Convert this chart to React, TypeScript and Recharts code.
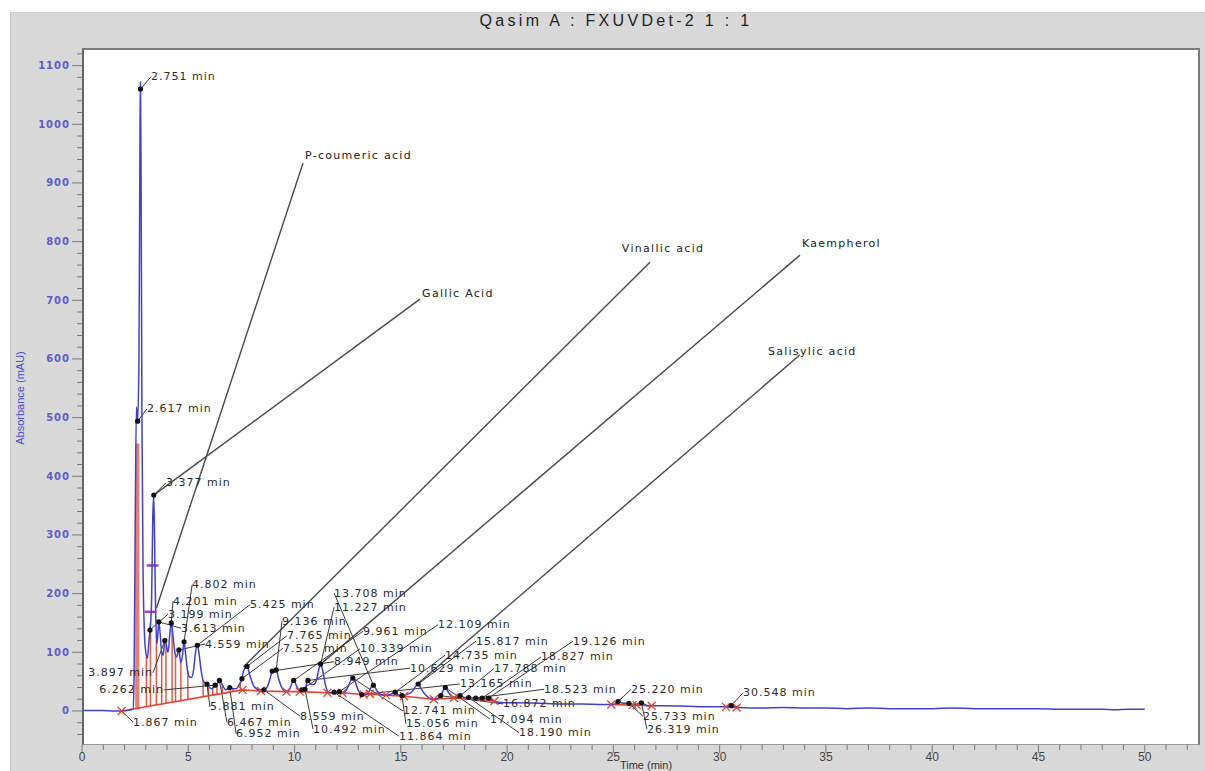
import {
  ComposedChart,
  Line,
  Scatter,
  XAxis,
  YAxis,
  ReferenceLine,
  ReferenceArea,
} from "recharts";

// detector trace, [time (min), absorbance (mAU)]
const trace: [number, number][] = [
  [0, 1], [0.5, 1], [1, 1], [1.5, 0], [1.867, 0], [2.2, 1], [2.4, 3], [2.45, 60],
  [2.5, 300], [2.56, 518], [2.617, 494], [2.68, 600], [2.73, 1000], [2.751, 1072],
  [2.78, 900], [2.82, 500], [2.87, 250], [2.93, 140], [3.0, 100], [3.08, 90],
  [3.15, 120], [3.199, 138], [3.27, 180], [3.33, 330], [3.377, 368], [3.42, 280],
  [3.47, 160], [3.53, 115], [3.613, 152], [3.68, 130], [3.75, 100], [3.82, 95],
  [3.897, 120], [3.97, 112], [4.05, 100], [4.13, 130], [4.201, 152], [4.28, 128],
  [4.37, 100], [4.46, 92], [4.559, 104], [4.65, 82], [4.73, 95], [4.802, 118],
  [4.88, 95], [4.96, 70], [5.05, 58], [5.15, 57], [5.25, 70], [5.34, 100],
  [5.425, 112], [5.5, 100], [5.6, 70], [5.72, 50], [5.881, 46], [6.0, 40],
  [6.1, 38], [6.262, 44], [6.35, 46], [6.467, 52], [6.6, 45], [6.75, 36],
  [6.952, 40], [7.1, 38], [7.25, 38], [7.4, 45], [7.525, 55], [7.6, 68],
  [7.765, 76], [7.9, 60], [8.05, 45], [8.25, 37], [8.4, 36], [8.559, 36],
  [8.7, 40], [8.85, 55], [8.949, 68], [9.05, 66], [9.136, 70], [9.25, 55],
  [9.4, 40], [9.6, 33], [9.75, 36], [9.961, 52], [10.1, 42], [10.22, 35],
  [10.339, 36], [10.492, 37], [10.629, 52], [10.75, 46], [10.9, 45], [11.05, 55],
  [11.15, 72], [11.227, 80], [11.33, 68], [11.45, 45], [11.6, 32], [11.75, 31],
  [11.864, 32], [12.0, 31], [12.109, 33], [12.3, 31], [12.5, 40], [12.65, 52],
  [12.741, 56], [12.85, 50], [13.0, 35], [13.165, 28], [13.3, 27], [13.45, 30],
  [13.6, 40], [13.708, 44], [13.85, 36], [14.05, 28], [14.3, 27], [14.5, 28],
  [14.735, 32], [14.9, 27], [15.056, 26], [15.25, 28], [15.5, 32], [15.7, 42],
  [15.817, 46], [15.95, 38], [16.15, 28], [16.4, 21], [16.6, 20], [16.872, 26],
  [16.98, 34], [17.094, 40], [17.2, 34], [17.4, 25], [17.6, 23], [17.788, 26],
  [18.0, 23], [18.19, 23], [18.35, 22], [18.523, 22], [18.7, 21], [18.827, 22],
  [19.0, 21], [19.126, 22], [19.4, 16], [19.8, 14], [20.5, 14], [21.5, 13],
  [22.5, 12], [23.5, 12], [24.5, 11], [25.0, 11], [25.22, 16], [25.45, 13],
  [25.733, 13], [26.0, 11], [26.319, 14], [26.6, 9], [27.5, 9], [28.5, 8],
  [29.5, 7], [30.2, 7], [30.548, 9], [30.9, 6], [32, 5], [33, 6], [34, 5],
  [35, 5], [36, 4], [37, 5], [38, 4], [39, 4], [40, 4], [41, 5], [42, 4],
  [43, 4], [44, 4], [45, 4], [46, 3], [47, 3], [48, 3], [48.6, 2], [49.2, 3],
  [50, 3],
];

// integrated peaks
const peakTimes = [
  2.617, 2.751, 3.199, 3.377, 3.613, 3.897, 4.201, 4.559, 4.802, 5.425, 5.881,
  6.262, 6.467, 6.952, 7.525, 7.765, 8.559, 8.949, 9.136, 9.961, 10.339, 10.492,
  10.629, 11.227, 11.864, 12.109, 12.741, 13.165, 13.708, 14.735, 15.056, 15.817,
  16.872, 17.094, 17.788, 18.19, 18.523, 18.827, 19.126, 25.22, 25.733, 26.319,
  30.548,
];
const peakValues = [
  494, 1060, 138, 368, 152, 120, 150, 104, 118, 112, 46, 44, 52, 40, 55, 76, 36,
  68, 70, 52, 36, 37, 52, 80, 32, 33, 56, 28, 44, 32, 26, 46, 26, 40, 26, 23, 22,
  22, 22, 16, 13, 14, 9,
];

// integration baseline (null = break)
const baseline: [number, number | null][] = [
  [1.867, 0], [7.55, 36], [8.42, 34], [9.62, 33], [10.25, 33], [11.55, 31],
  [12.25, 31], [13.25, 28], [13.55, 29], [14.3, 27], [15.15, 25], [16.55, 20],
  [17.5, 22], [19.4, 17], [19.5, null], [24.9, 11], [25.9, 10], [26.1, 10],
  [26.8, 9], [27, null], [30.3, 7], [30.8, 6],
];

// peak drop lines in the crowded early part
const dropTimes = [3.03, 3.22, 3.5, 3.75, 3.95, 4.24, 4.4, 4.65, 4.98, 5.7, 5.95, 6.15, 6.35, 6.6, 7.1, 7.45];
const dropFloor = [7, 9, 10, 12, 13, 15, 16, 18, 20, 24, 26, 27, 28, 30, 33, 35];
const dropTop = [92, 150, 130, 100, 112, 145, 98, 82, 68, 52, 40, 40, 46, 45, 38, 48];

// retention time labels and where they sit
const labelPeaks = [
  2.751, 2.617, 3.377, 4.802, 4.201, 3.199, 3.613, 4.559, 3.897, 6.262, 1.867,
  5.425, 9.136, 7.765, 7.525, 5.881, 6.467, 6.952, 13.708, 11.227, 9.961, 8.949,
  10.339, 12.109, 10.629, 8.559, 10.492, 11.864, 15.817, 14.735, 13.165, 12.741,
  15.056, 19.126, 18.827, 17.788, 18.523, 16.872, 17.094, 18.19, 25.22, 25.733,
  26.319, 30.548,
];
const labelSpots: [number, number][] = [
  [3.25, 1081], [3.06, 515], [3.95, 389], [5.18, 215], [4.28, 187], [4.05, 165],
  [4.66, 141], [5.79, 114], [3.34, 65], [3.86, 36], [2.4, -19], [7.9, 181],
  [9.41, 153], [9.64, 128], [9.46, 107], [6.02, 7], [6.82, -19], [7.25, -39],
  [11.86, 201], [11.86, 177], [13.22, 136], [11.86, 84], [13.08, 106],
  [16.75, 147], [15.43, 73], [10.26, -9], [10.87, -31], [14.91, -43],
  [18.54, 119], [17.08, 95], [17.78, 46], [15.1, 0], [15.24, -22], [23.1, 119],
  [21.6, 92], [19.38, 72], [21.74, 37], [19.81, 12], [19.2, -14], [20.56, -37],
  [25.83, 37], [26.39, -9], [26.58, -31], [31.1, 31],
];
const rightAligned = [3.897, 6.262];

// identified compounds
const compoundNames = ["P-coumeric acid", "Gallic Acid", "Vinallic acid", "Kaempherol", "Salisylic acid"];
const compoundFrom: [number, number][] = [[3.5, 175], [3.377, 368], [7.6, 75], [11.3, 82], [15.85, 48]];
const compoundTo: [number, number][] = [[10.4, 934], [15.9, 702], [26.72, 765], [33.78, 777], [33.78, 607]];
const compoundText: [number, number][] = [[10.49, 946], [16.0, 712], [25.4, 789], [33.87, 796], [32.27, 612]];

const yTicks = Array.from({ length: 59 }, (_, i) => -40 + i * 20);
const xTicks = Array.from({ length: 53 }, (_, i) => i);

const traceData = trace.map(([t, v]) => ({ t, v }));
const baseData = baseline.map(([t, v]) => ({ t, v }));
const baseMarks = baseline.filter(([, v]) => v !== null).map(([t, v]) => ({ t, v }));
const peakData = peakTimes.map((t, i) => ({ t, v: peakValues[i] }));
const labelData = labelPeaks.map((p, i) => ({
  t: labelSpots[i][0],
  v: labelSpots[i][1],
  text: `${p.toFixed(3)} min`,
  align: rightAligned.includes(p) ? "end" : "start",
}));
const compoundData = compoundNames.map((name, i) => ({ t: compoundText[i][0], v: compoundText[i][1], text: name }));

const leaderTarget = (p: number): [number, number] => {
  const i = peakTimes.indexOf(p);
  return i >= 0 ? [p, peakValues[i]] : [p, 0];
};

const YTick = (props: any) => {
  const { x, y, payload } = props;
  const major = payload.value % 100 === 0;
  return (
    <g>
      <line x1={x - (major ? 10 : 5)} x2={x} y1={y} y2={y} stroke="#7a7a7a" />
      {major && (
        <text x={x - 12} y={y} textAnchor="end" dominantBaseline="central" fontFamily="DejaVu Sans" fontWeight="bold" fontSize={10} letterSpacing={1} fill="#5a5ad2">
          {payload.value}
        </text>
      )}
    </g>
  );
};

const XTick = (props: any) => {
  const { x, y, payload } = props;
  const major = payload.value % 5 === 0;
  return (
    <g>
      <line x1={x} x2={x} y1={y} y2={y + (major ? 8 : 5)} stroke="#7a7a7a" />
      {major && (
        <text x={x} y={y + 12} textAnchor="middle" dominantBaseline="central" fontFamily="Liberation Sans" fontSize={12} fill="#444">
          {payload.value}
        </text>
      )}
    </g>
  );
};

const RtLabel = (props: any) => {
  const { cx, cy, payload } = props;
  return (
    <text x={cx} y={cy} textAnchor={payload.align} dominantBaseline="central" fontFamily="DejaVu Sans" fontSize={11} letterSpacing={1} fill="#2b2b2b">
      {payload.text}
    </text>
  );
};

const CompoundLabel = (props: any) => {
  const { cx, cy, payload } = props;
  return (
    <text x={cx} y={cy} dominantBaseline="central" fontFamily="DejaVu Sans" fontSize={11} letterSpacing={1.3} fill="#222">
      {payload.text}
    </text>
  );
};

const Dot = (props: any) => <circle cx={props.cx} cy={props.cy} r={2.6} fill="#111" />;

const Cross = (props: any) => {
  const { cx, cy } = props;
  return (
    <g stroke="#e8412d" strokeWidth={1.3}>
      <line x1={cx - 4} y1={cy - 4} x2={cx + 4} y2={cy + 4} />
      <line x1={cx - 4} y1={cy + 4} x2={cx + 4} y2={cy - 4} />
    </g>
  );
};

export default function App() {
  return (
    <div style={{ position: "absolute", left: 0, top: 0, width: 1205, height: 771, background: "#fff", overflow: "hidden" }}>
      <div style={{ position: "absolute", left: 10, top: 12, width: 1195, height: 759, background: "#d9d9d9", borderLeft: "1px solid #c4c4c4", borderTop: "1px solid #cfcfcf" }} />
      <div style={{ position: "absolute", left: 0, width: 1232, top: 12, textAlign: "center", fontFamily: "Liberation Sans", fontSize: 16, letterSpacing: 3.3, color: "#222" }}>
        Qasim A : FXUVDet-2 1 : 1
      </div>
      <div style={{ position: "absolute", left: 82, top: 48, width: 1118, height: 697, background: "#fff" }} />
      <div style={{ position: "absolute", left: 0, top: 0 }}>
        <ComposedChart width={1205} height={771} margin={{ top: 48, right: 5, left: 10, bottom: 0 }}>
          <XAxis
            type="number"
            dataKey="t"
            domain={[0, 52.6]}
            ticks={xTicks}
            interval={0}
            height={26}
            tickSize={0}
            tickMargin={0}
            axisLine={false}
            tickLine={false}
            tick={XTick}
          />
          <YAxis
            type="number"
            dataKey="v"
            domain={[-58, 1130]}
            ticks={yTicks}
            interval={0}
            width={72}
            tickSize={0}
            tickMargin={0}
            axisLine={false}
            tickLine={false}
            tick={YTick}
          />
          <ReferenceArea x1={2.5} x2={2.7} y1={3} y2={456} fill="#e9705f" fillOpacity={0.9} stroke="none" />
          {dropTimes.map((t, i) => (
            <ReferenceLine key={`d${i}`} segment={[{ x: t, y: dropFloor[i] }, { x: t, y: dropTop[i] }]} stroke="#e25a46" strokeWidth={1.5} />
          ))}
          {compoundNames.map((n, i) => (
            <ReferenceLine key={`c${i}`} segment={[{ x: compoundFrom[i][0], y: compoundFrom[i][1] }, { x: compoundTo[i][0], y: compoundTo[i][1] }]} stroke="#4a4a4a" strokeWidth={1.4} />
          ))}
          {labelPeaks.map((p, i) => {
            const [pt, pv] = leaderTarget(p);
            return (
              <ReferenceLine key={`l${i}`} segment={[{ x: pt, y: pv }, { x: labelSpots[i][0], y: labelSpots[i][1] }]} stroke="#3a3a3a" strokeWidth={1} />
            );
          })}
          <ReferenceLine segment={[{ x: 3.05, y: 248 }, { x: 3.6, y: 248 }]} stroke="#a63cc0" strokeWidth={2.5} />
          <ReferenceLine segment={[{ x: 2.95, y: 169 }, { x: 3.5, y: 169 }]} stroke="#a63cc0" strokeWidth={2.5} />
          <Line data={baseData} dataKey="v" type="linear" stroke="#e8412d" strokeWidth={1.6} dot={false} connectNulls={false} isAnimationActive={false} />
          <Line data={traceData} dataKey="v" type="monotone" stroke="#4040d0" strokeWidth={1.5} dot={false} isAnimationActive={false} />
          <Scatter data={baseMarks} dataKey="v" shape={Cross} isAnimationActive={false} />
          <Scatter data={peakData} dataKey="v" shape={Dot} isAnimationActive={false} />
          <Scatter data={labelData} dataKey="v" shape={RtLabel} isAnimationActive={false} />
          <Scatter data={compoundData} dataKey="v" shape={CompoundLabel} isAnimationActive={false} />
        </ComposedChart>
      </div>
      <div style={{ position: "absolute", left: 82, top: 48, width: 1118, height: 697, boxSizing: "border-box", borderTop: "2px solid #7d7d7d", borderRight: "2px solid #7d7d7d", borderLeft: "2px solid #666", borderBottom: "1px solid #999", pointerEvents: "none" }} />
      <div style={{ position: "absolute", left: 20, top: 398, transform: "translate(-50%, -50%) rotate(-90deg)", whiteSpace: "nowrap", fontFamily: "Liberation Sans", fontSize: 11, color: "#4b4bd6" }}>
        Absorbance (mAU)
      </div>
      <div style={{ position: "absolute", left: 646, top: 765, transform: "translate(-50%, -50%)", whiteSpace: "nowrap", fontFamily: "Liberation Sans", fontSize: 11, lineHeight: "11px", color: "#333" }}>
        Time (min)
      </div>
    </div>
  );
}
